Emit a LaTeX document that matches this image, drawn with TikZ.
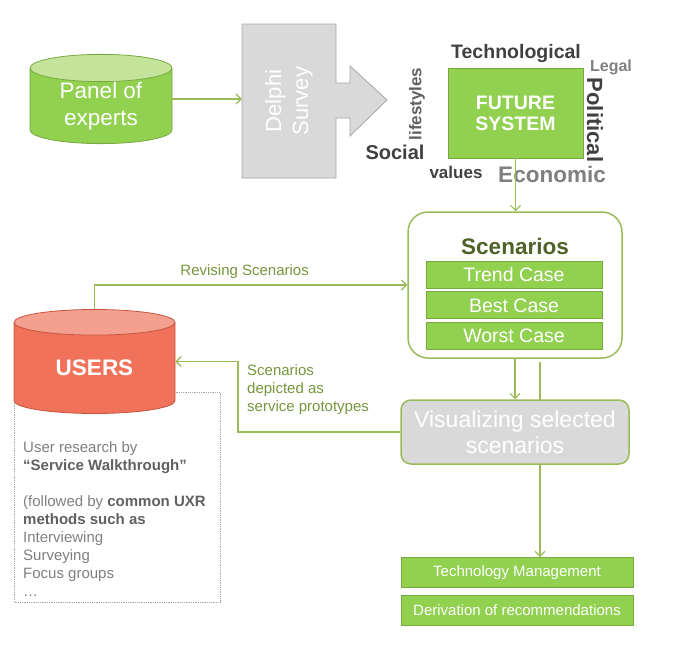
\documentclass[tikz,border=0pt]{standalone}
\usepackage{fontspec}
\setmainfont{Liberation Sans}
\definecolor{fsgreen}{RGB}{146,208,80}
\definecolor{fsgreenline}{RGB}{120,168,62}
\definecolor{fsgreentop}{RGB}{196,228,156}
\definecolor{fsolive}{RGB}{155,187,89}
\definecolor{fslabel}{RGB}{118,150,60}
\definecolor{fsdark}{RGB}{79,98,40}
\definecolor{fsgray}{RGB}{217,217,217}
\definecolor{fsgrayline}{RGB}{166,166,166}
\definecolor{fsred}{RGB}{240,114,90}
\definecolor{fsredtop}{RGB}{244,160,142}
\definecolor{fsredline}{RGB}{198,84,62}
\definecolor{fstext}{RGB}{64,64,64}
\definecolor{fstextmid}{RGB}{96,96,96}
\definecolor{fstextlight}{RGB}{127,127,127}
\usetikzlibrary{arrows.meta,positioning,shapes.geometric}

\begin{document}
\begin{tikzpicture}[
  x=1pt,y=-1pt,
  every node/.style={font=\fontsize{15}{18}\selectfont},
  flow/.style={draw=fsolive,line width=1.2pt,-{Straight Barb[length=5pt,width=10pt]}},
  greenbox/.style={draw=fsgreenline,fill=fsgreen,text=white,inner sep=0pt,line width=0.8pt},
  casebox/.style={greenbox,minimum width=176pt,minimum height=27pt,font=\fontsize{19.5}{22}\selectfont},
  outbox/.style={greenbox,minimum width=232pt,minimum height=30pt,font=\fontsize{15}{17}\selectfont},
  dbcyl/.style={cylinder,shape border rotate=90,aspect=0.33,cylinder uses custom fill,
    anchor=shape center,line width=0.8pt,text=white,align=center,inner sep=0pt},
  factor/.style={font=\fontsize{#1}{#1}\selectfont\bfseries,inner sep=0pt},
]
  \useasboundingbox (0,0) rectangle (676,653);

  % Panel of experts and Delphi survey
  \node[dbcyl,draw=fsgreenline,cylinder body fill=fsgreen,cylinder end fill=fsgreentop,
        minimum width=142pt,minimum height=86pt,font=\fontsize{22.5}{27}\selectfont]
        (panel) at (101,99) {Panel of\\experts};

  \node[minimum width=94pt,minimum height=154pt,inner sep=0pt] (delphi) at (289,101) {};
  \filldraw[fill=fsgray,draw=fsgrayline,line width=0.8pt]
    (242,24) -- (336,24) -- (336,83) -- (350,83) -- (350,66) -- (387,100)
    -- (350,136) -- (350,118) -- (336,118) -- (336,178) -- (242,178) -- cycle;
  \node[rotate=90,text=white,align=center,font=\fontsize{22}{27}\selectfont]
    (delphitext) at (delphi.center) {Delphi\\Survey};

  \draw[flow] (panel.shape center -| panel.east) -- (panel.shape center -| delphi.west);

  % Future system with its factors
  \node[greenbox,minimum width=135pt,minimum height=90pt,align=center,
        font=\fontsize{19.5}{21}\selectfont\bfseries] (future) at (515.5,113) {FUTURE\\SYSTEM};

  \node[factor=19.5,text=fstext] (tech) at (516,54) {Technological};
  \node[factor=16,text=fstextlight] (legal) at (611,67) {Legal};
  \node[factor=22,text=fstext,rotate=-90] (polit) at (595,120) {Political};
  \node[factor=22.5,text=fstextlight] (econ) at (552,174) {Economic};
  \node[factor=20,text=fstext] (social) at (395,152) {Social};
  \node[factor=17,text=fstext] (values) at (456,172) {values};
  \node[factor=17,text=fstextmid,rotate=90] (life) at (417,104) {lifestyles};

  % Scenarios
  \node[draw=fsolive,fill=white,line width=1.5pt,rounded corners=20pt,
        minimum width=214pt,minimum height=146pt] (scen) at (515,285) {};
  \node[font=\fontsize{22.5}{26}\selectfont\bfseries,text=fsdark] (scentitle) at (515,246) {Scenarios};
  \node[casebox] (trend) at (514,274.5) {Trend Case};
  \node[casebox,below=3pt of trend] (best) {Best Case};
  \node[casebox,below=3pt of best] (worst) {Worst Case};

  \draw[flow] (future.south) -- (future.south |- scen.north);

  % Users
  \draw[fsgrayline,densely dotted,line width=0.8pt] (14,392) rectangle (220,602);
  \node[dbcyl,draw=fsredline,cylinder body fill=fsred,cylinder end fill=fsredtop,
        minimum width=161pt,minimum height=104pt,font=\fontsize{22.5}{26}\selectfont\bfseries]
        (users) at (94.5,361.5) {USERS};
  \node[anchor=west,align=left,inner sep=0pt,text=fstextlight] (uxr) at (23,519)
    {User research by\\
     \textbf{\textcolor{fstextmid}{“Service Walkthrough”}}\\[18pt]
     (followed by \textbf{\textcolor{fstextmid}{common UXR}}\\
     \textbf{\textcolor{fstextmid}{methods such as}}\\
     Interviewing\\
     Surveying\\
     Focus groups\\
     …};

  \draw[flow] (users.north) |- (scen.west)
    node[pos=0.74,above=2pt,text=fslabel] (revlabel) {Revising Scenarios};

  % Visualizing and outputs
  \coordinate (side) at (540,362);
  \node[outbox] (techm) at (517,572.5) {Technology Management};
  \node[outbox,below=7pt of techm] (deriv) {Derivation of recommendations};
  \draw[flow] (side) -- (side |- techm.north);

  \node[draw=fsolive,fill=fsgray,line width=1.5pt,rounded corners=10pt,
        minimum width=228pt,minimum height=64pt,align=center,text=white,
        font=\fontsize{23}{26}\selectfont] (vis) at (515,432) {Visualizing selected\\scenarios};

  \draw[flow] (scen.south) -- (vis.north);

  \coordinate (bend) at (238,432);
  \draw[flow] (vis.west) -- (bend) |- (users.shape center -| users.east);
  \node[anchor=west,align=left,text=fslabel,inner sep=0pt] (protolabel) at (247,390)
    {Scenarios\\depicted as\\service prototypes};
\end{tikzpicture}
\end{document}
